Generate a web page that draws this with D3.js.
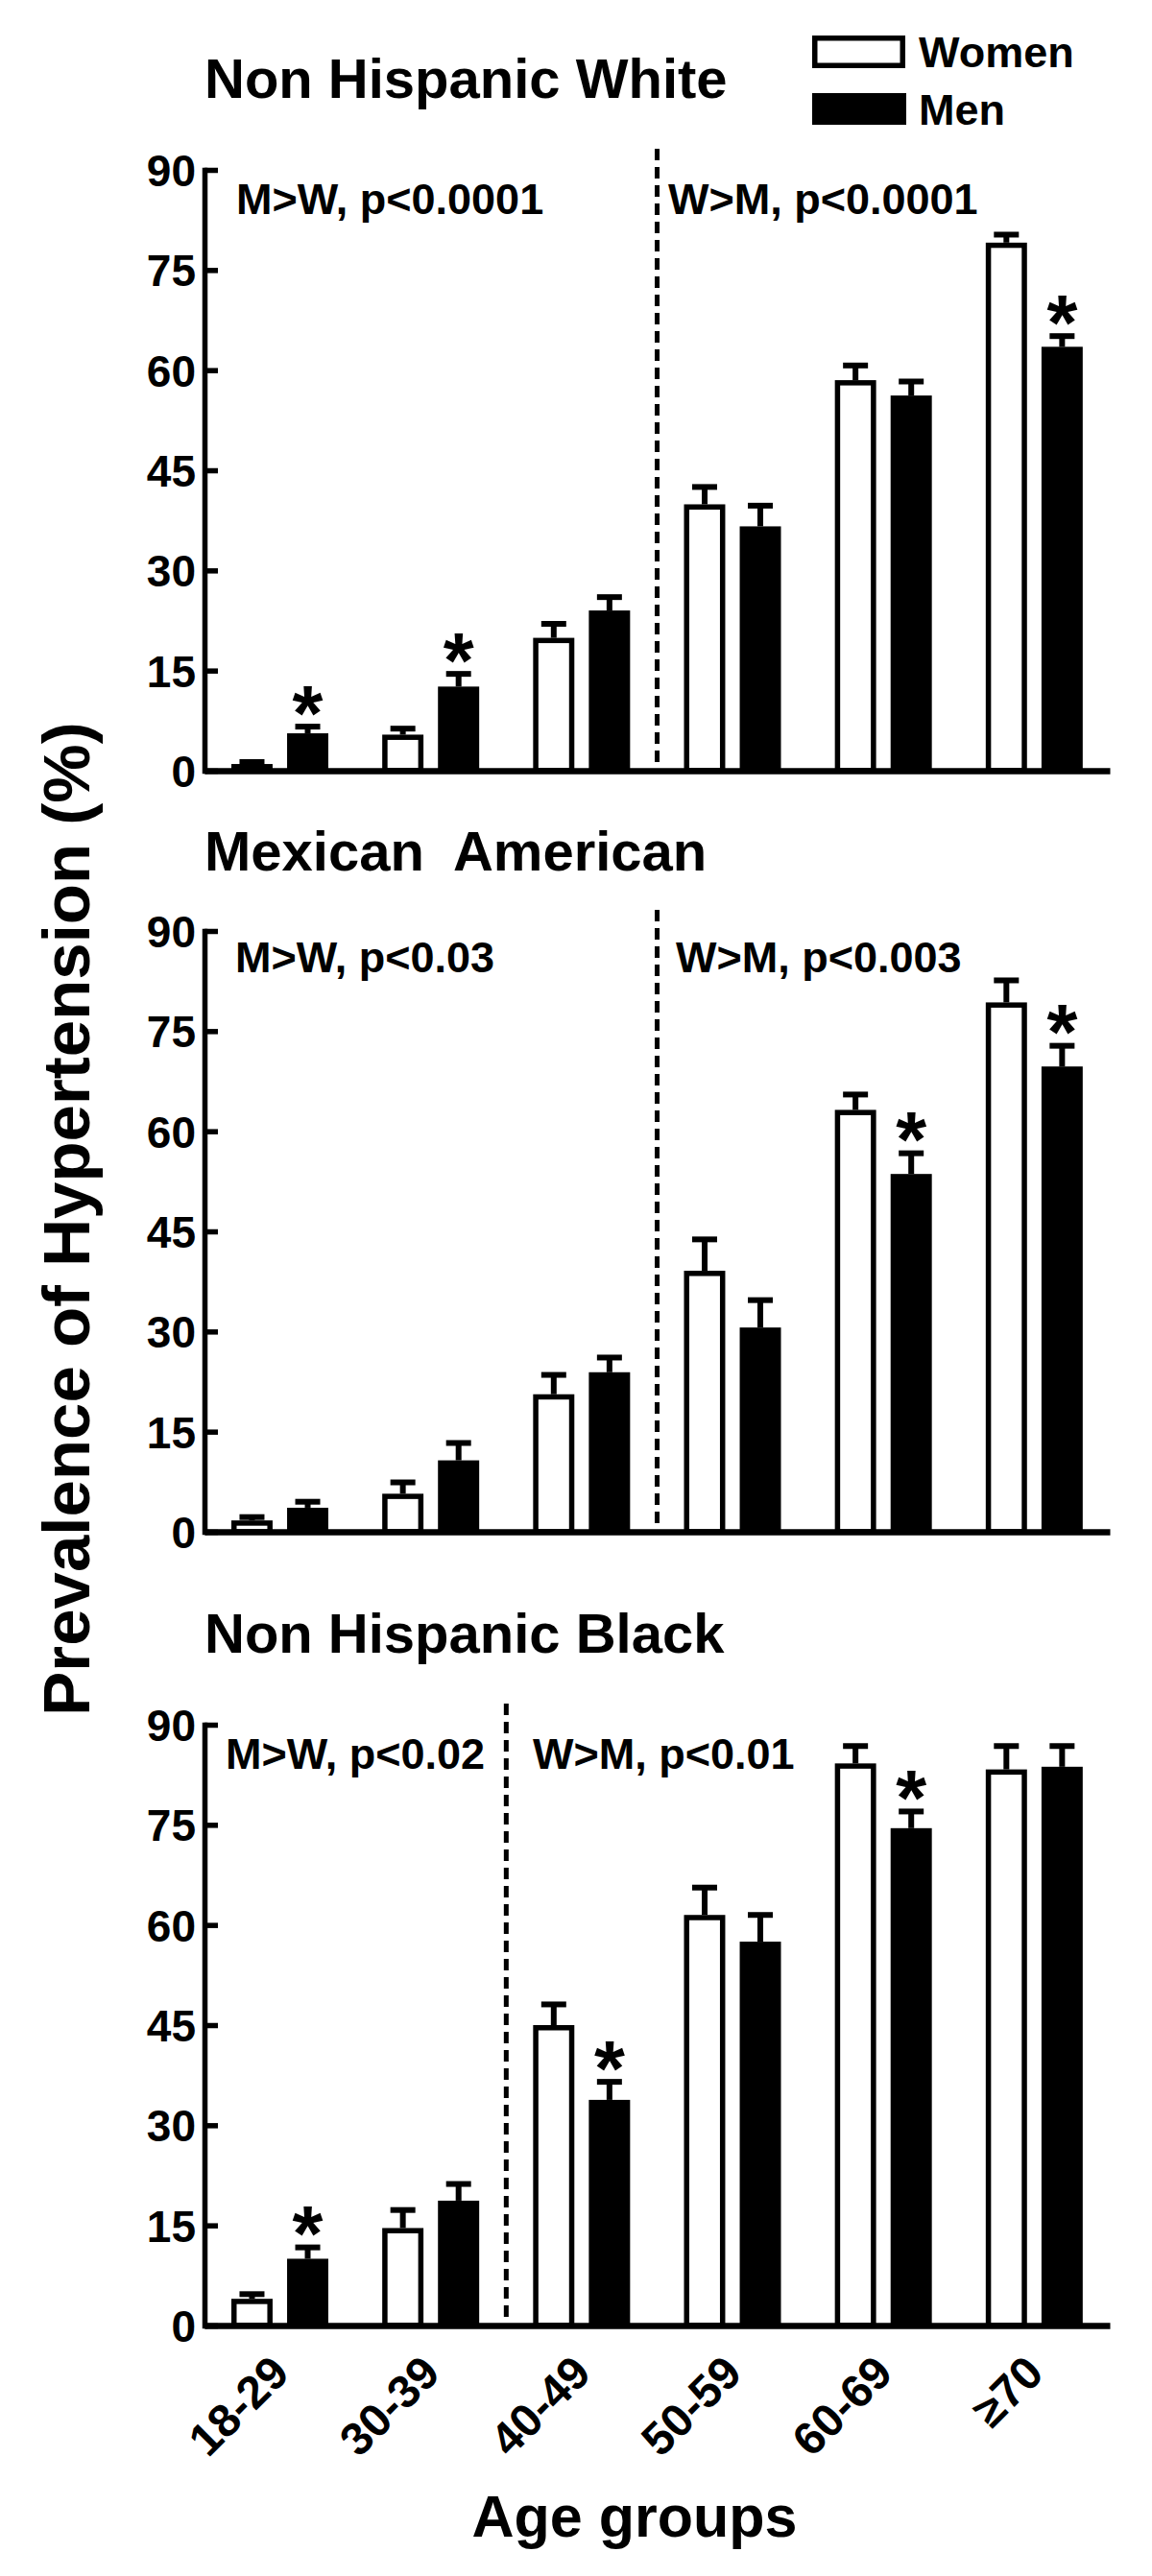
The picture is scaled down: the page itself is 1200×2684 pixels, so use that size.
<!DOCTYPE html>
<html>
<head>
<meta charset="utf-8">
<script src="https://cdn.jsdelivr.net/npm/d3@7"></script>
<style>
  body { margin: 0; background: #fff; }
  text { font-family: "Liberation Sans", Arial, sans-serif; font-weight: bold; }
</style>
</head>
<body>
<script>
// age groups and y ticks
const ageGroups = ["18-29", "30-39", "40-49", "50-59", "60-69", "\u226570"];
const sexes = ["Women", "Men"];
const yTicks = [0, 15, 30, 45, 60, 75, 90];

// Non Hispanic White
const whiteWomen = [1.0, 5.4, 19.9, 39.9, 58.5, 79.1];
const whiteWomenErr = [0.3, 0.9, 2.1, 2.6, 2.2, 1.2];
const whiteMen = [5.6, 12.6, 24.0, 36.6, 56.2, 63.5];
const whiteMenErr = [1.0, 1.9, 2.0, 3.1, 2.1, 1.6];
const whiteStars = [0, 1, 5];

// Mexican American
const mexWomen = [1.7, 5.7, 20.6, 39.1, 63.2, 79.3];
const mexWomenErr = [0.5, 1.7, 2.9, 4.7, 2.3, 3.3];
const mexMen = [3.6, 10.7, 23.9, 30.6, 53.6, 69.7];
const mexMenErr = [0.9, 2.6, 2.2, 4.1, 3.1, 3.1];
const mexStars = [4, 5];

// Non Hispanic Black
const blackWomen = [4.0, 14.6, 45.0, 61.5, 84.2, 83.3];
const blackWomenErr = [0.7, 2.7, 3.1, 4.1, 2.6, 3.5];
const blackMen = [10.0, 18.7, 33.8, 57.5, 74.5, 83.7];
const blackMenErr = [1.7, 2.5, 2.7, 4.0, 2.5, 3.1];
const blackStars = [0, 2, 4];

const panels = [
  { title: "Non Hispanic White", women: whiteWomen, womenErr: whiteWomenErr, men: whiteMen, menErr: whiteMenErr,
    stars: whiteStars, split: 3, left: "M>W, p<0.0001", right: "W>M, p<0.0001",
    top: 177, titleY: 102, leftX: 246, rightX: 696, noteDy: 46 },
  { title: "Mexican\u00a0 American", women: mexWomen, womenErr: mexWomenErr, men: mexMen, menErr: mexMenErr,
    stars: mexStars, split: 3, left: "M>W, p<0.03", right: "W>M, p<0.003",
    top: 970, titleY: 907, leftX: 245, rightX: 704, noteDy: 43 },
  { title: "Non Hispanic Black", women: blackWomen, womenErr: blackWomenErr, men: blackMen, menErr: blackMenErr,
    stars: blackStars, split: 2, left: "M>W, p<0.02", right: "W>M, p<0.01",
    top: 1797, titleY: 1722, leftX: 235, rightX: 555, noteDy: 46 }
];

const W = 1200, H = 2684;
const plotH = 626;
const stroke = 5.5;

const svg = d3.select("body").append("svg")
  .attr("width", W)
  .attr("height", H);

const x = d3.scaleBand().domain(ageGroups).range([213, 1156]);
const xSex = d3.scaleBand().domain(sexes).range([28, 129]).paddingInner(0.26);

panels.forEach((p, pi) => {
  const bottom = p.top + plotH;
  const y = d3.scaleLinear().domain([0, 90]).range([bottom, p.top]);
  const g = svg.append("g");

  // title
  g.append("text")
    .attr("x", 213)
    .attr("y", p.titleY)
    .attr("font-size", 58)
    .text(p.title);

  // y axis, ticks point inward
  const yAxis = g.append("g")
    .attr("transform", `translate(${x.range()[0]},0)`)
    .call(d3.axisLeft(y).tickValues(yTicks).tickSizeInner(-14).tickSizeOuter(0).tickPadding(9));
  yAxis.select(".domain").attr("stroke-width", stroke).attr("stroke-linecap", "square");
  yAxis.selectAll(".tick line").attr("stroke-width", stroke);
  yAxis.selectAll(".tick text")
    .attr("font-size", 46)
    .attr("font-family", "Liberation Sans, Arial, sans-serif")
    .attr("font-weight", "bold")
    .attr("dy", "0.36em");

  // bars
  const rows = ageGroups.map((a, i) => ({
    age: a, i,
    vals: [
      { sex: "Women", v: p.women[i], e: p.womenErr[i] },
      { sex: "Men", v: p.men[i], e: p.menErr[i] }
    ]
  }));

  const grp = g.selectAll(".grp").data(rows).enter().append("g")
    .attr("transform", d => `translate(${x(d.age)},0)`);

  // error bars (drawn first so bars cover the stem base)
  grp.selectAll(".err").data(d => d.vals).enter().append("g")
    .each(function (d) {
      const cx = xSex(d.sex) + xSex.bandwidth() / 2;
      const e = d3.select(this);
      e.append("line")
        .attr("x1", cx).attr("x2", cx)
        .attr("y1", y(d.v)).attr("y2", y(d.v + d.e))
        .attr("stroke", "#000").attr("stroke-width", stroke + 0.5);
      e.append("line")
        .attr("x1", cx - 13).attr("x2", cx + 13)
        .attr("y1", y(d.v + d.e)).attr("y2", y(d.v + d.e))
        .attr("stroke", "#000").attr("stroke-width", stroke + 0.5);
    });

  grp.selectAll(".bar").data(d => d.vals).enter().append("rect")
    .attr("x", d => xSex(d.sex) + (d.sex === "Women" ? stroke / 2 : 0))
    .attr("width", d => xSex.bandwidth() - (d.sex === "Women" ? stroke : 0))
    .attr("y", d => y(d.v) + (d.sex === "Women" ? stroke / 2 : 0))
    .attr("height", d => Math.max(0, bottom - y(d.v) - (d.sex === "Women" ? stroke / 2 : 0)))
    .attr("fill", d => d.sex === "Women" ? "#fff" : "#000")
    .attr("stroke", d => d.sex === "Women" ? "#000" : "none")
    .attr("stroke-width", stroke);

  // stars over men bars
  const starSize = 82;
  g.selectAll(".star").data(p.stars).enter().append("text")
    .attr("x", i => x(ageGroups[i]) + xSex("Men") + xSex.bandwidth() / 2)
    .attr("y", i => y(p.men[i] + p.menErr[i]) - 33 + starSize * 0.57)
    .attr("text-anchor", "middle")
    .attr("font-size", starSize)
    .text("*");

  // x axis
  const xAxis = g.append("g")
    .attr("transform", `translate(0,${bottom})`)
    .call(d3.axisBottom(x).tickSize(0).tickPadding(0));
  xAxis.select(".domain").attr("stroke-width", stroke + 1);
  if (pi < panels.length - 1) {
    xAxis.selectAll(".tick text").remove();
  } else {
    xAxis.selectAll(".tick text")
      .attr("font-size", 48)
      .attr("font-family", "Liberation Sans, Arial, sans-serif")
      .attr("font-weight", "bold")
      .attr("text-anchor", "end")
      .attr("x", null).attr("y", null).attr("dy", null)
      .attr("transform", "translate(12,52) rotate(-45)");
  }

  // divider between significance regions
  const xs = x(ageGroups[p.split]);
  g.append("line")
    .attr("x1", xs).attr("x2", xs)
    .attr("y1", p.top - 22).attr("y2", bottom)
    .attr("stroke", "#000").attr("stroke-width", 5)
    .attr("stroke-dasharray", "12,7");

  // annotations
  g.append("text").attr("x", p.leftX).attr("y", p.top + p.noteDy).attr("font-size", 45).text(p.left);
  g.append("text").attr("x", p.rightX).attr("y", p.top + p.noteDy).attr("font-size", 45).text(p.right);
});

// legend
const legend = svg.append("g");
legend.append("rect").attr("x", 848.75).attr("y", 39.75).attr("width", 91.5).attr("height", 28.5)
  .attr("fill", "#fff").attr("stroke", "#000").attr("stroke-width", stroke);
legend.append("rect").attr("x", 846).attr("y", 97).attr("width", 98).attr("height", 33).attr("fill", "#000");
legend.append("text").attr("x", 957).attr("y", 70).attr("font-size", 45).text(sexes[0]);
legend.append("text").attr("x", 957).attr("y", 130).attr("font-size", 45).text(sexes[1]);

// axis titles
svg.append("text")
  .attr("transform", "translate(93,1270) rotate(-90)")
  .attr("text-anchor", "middle")
  .attr("font-size", 69)
  .text("Prevalence of Hypertension (%)");

svg.append("text")
  .attr("x", 661)
  .attr("y", 2643)
  .attr("text-anchor", "middle")
  .attr("font-size", 61)
  .text("Age groups");
</script>
</body>
</html>
